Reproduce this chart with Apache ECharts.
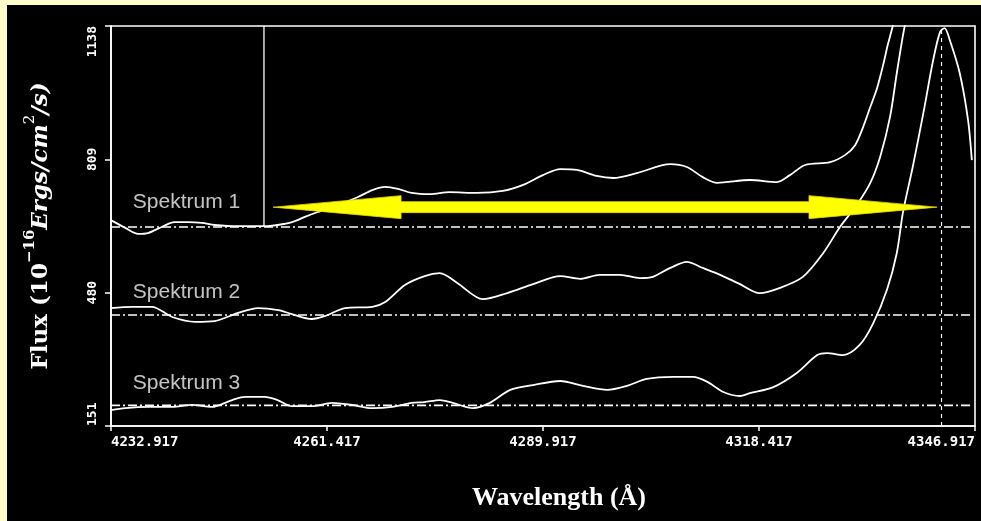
<!DOCTYPE html>
<html><head><meta charset="utf-8">
<script src="https://cdn.jsdelivr.net/npm/echarts@6/dist/echarts.min.js"></script>
<style>
html,body{margin:0;padding:0;background:#ffffcc;width:981px;height:521px;overflow:hidden;}
#bg{position:absolute;left:7px;top:5px;width:974px;height:516px;background:#000;}
#c{position:absolute;left:0;top:0;width:981px;height:521px;}
</style>
</head><body><div id="bg"></div><div id="c"></div>
<script>
// ---- data ----
const xTicks = [4232.917, 4261.417, 4289.917, 4318.417, 4346.917];
const yTicks = [151, 480, 809, 1138];

const spec1 = [[4232.9,659],[4234.8,640],[4236.5,625],[4237.8,627],[4239.6,642],[4241.3,654],[4243.1,654],[4244.9,652],[4246.6,647],[4249.7,644],[4253.2,644],[4254.9,647],[4256.8,654],[4258.5,667],[4260.2,679],[4262.9,696],[4265.5,716],[4267.4,733],[4269.1,741],[4270.8,736],[4272.6,726],[4275.0,723],[4277.6,728],[4281.2,726],[4284.6,731],[4287.3,746],[4289.9,770],[4292.2,785],[4294.4,783],[4297.0,768],[4299.2,763],[4302.3,775],[4306.7,797],[4308.9,790],[4311.0,765],[4312.9,751],[4317.2,758],[4320.8,753],[4322.5,770],[4324.5,795],[4327.8,802],[4329.8,820],[4331.1,844],[4332.1,886],[4333.1,938],[4334.0,985],[4334.8,1042],[4335.4,1091],[4336.0,1133],[4336.2,1153]];

const spec2 = [[4232.9,442],[4235.7,445],[4238.3,445],[4241.0,420],[4244.0,408],[4246.6,410],[4249.7,430],[4252.3,442],[4255.0,437],[4256.8,427],[4259.4,415],[4261.1,422],[4263.8,442],[4267.4,445],[4269.1,457],[4271.7,499],[4274.3,521],[4276.3,528],[4278.6,504],[4282.0,464],[4285.2,479],[4288.6,501],[4292.2,521],[4294.8,514],[4297.4,524],[4300.1,524],[4302.7,516],[4304.4,519],[4306.7,541],[4308.9,556],[4311.0,541],[4313.3,524],[4315.9,501],[4318.5,479],[4321.2,492],[4324.2,519],[4326.9,578],[4329.1,642],[4331.3,696],[4333.1,751],[4334.4,815],[4335.7,913],[4336.6,1022],[4337.3,1103],[4337.8,1153]];

const spec3 = [[4232.9,190],[4234.8,195],[4237.8,198],[4241.0,198],[4243.6,203],[4246.2,198],[4248.9,215],[4250.6,223],[4253.2,223],[4254.9,215],[4256.8,200],[4259.4,200],[4262.1,208],[4264.7,203],[4267.4,195],[4270.0,198],[4272.6,208],[4274.3,210],[4276.3,215],[4278.0,208],[4280.7,195],[4282.9,208],[4285.6,240],[4288.6,252],[4292.2,262],[4295.2,250],[4298.4,240],[4301.0,250],[4303.6,267],[4307.1,272],[4309.7,272],[4311.6,260],[4313.7,235],[4315.9,225],[4317.2,232],[4320.3,247],[4323.4,282],[4326.1,326],[4327.4,331],[4329.5,326],[4331.7,351],[4333.5,405],[4335.3,487],[4336.6,578],[4337.4,677],[4338.7,790],[4340.1,923],[4341.4,1054],[4342.3,1123],[4342.9,1133],[4343.6,1103],[4344.9,1022],[4346.0,906],[4346.5,807]];

const baselineLevels = [642, 425, 202];
const baselineStart = 4232.917;
const baselineEnd = 4346.5;
const markerLine = [[4253.1, 642], [4253.1, 1138]];
const peakLine = [[4342.5, 151], [4342.5, 1138]];
const labelPoints = [[4235.8, 704, 'Spektrum 1'], [4235.8, 482, 'Spektrum 2'], [4235.8, 257, 'Spektrum 3']];
const arrowSpan = [[4254.3, 4341.9, 691]];

// ---- chart ----
const chart = echarts.init(document.getElementById('c'), null, {renderer: 'canvas'});
const WHITE = '#ffffff';
const tickFont = {fontFamily: 'DejaVu Sans Mono', fontWeight: 'bold', fontSize: 13, color: WHITE};

const series = [];
[spec1, spec2, spec3].forEach(d => series.push({
  type: 'line', data: d, symbol: 'none', smooth: 0.3,
  lineStyle: {color: WHITE, width: 1.8}, z: 3
}));
baselineLevels.forEach(v => series.push({
  type: 'line', data: [[baselineStart, v], [baselineEnd, v]], symbol: 'none',
  lineStyle: {color: WHITE, width: 1.6, type: [9, 3, 2, 3]}, z: 2
}));
series.push({type: 'line', data: markerLine, symbol: 'none', lineStyle: {color: WHITE, width: 1.3}, z: 2});
series.push({type: 'line', data: peakLine, symbol: 'none', lineStyle: {color: WHITE, width: 1.1, type: [4, 4]}, z: 2});
series.push({
  type: 'scatter', data: labelPoints, symbolSize: 0, z: 4,
  label: {show: true, position: 'right', distance: 0, formatter: p => p.data[2],
    color: '#f4f4f4', fontFamily: 'Liberation Sans', fontSize: 21}
});
series.push({
  type: 'custom', data: arrowSpan, z: 10,
  renderItem: (params, api) => {
    const a = api.coord([api.value(0), api.value(2)]);
    const b = api.coord([api.value(1), api.value(2)]);
    const L = 128, H = 11.5, h = 5.5, y = a[1];
    return {
      type: 'polygon',
      shape: {points: [[a[0], y], [a[0] + L, y - H], [a[0] + L, y - h], [b[0] - L, y - h], [b[0] - L, y - H],
        [b[0], y], [b[0] - L, y + H], [b[0] - L, y + h], [a[0] + L, y + h], [a[0] + L, y + H]]},
      style: {fill: '#ffff00', stroke: '#e6d200', lineWidth: 0.8}
    };
  }
});

chart.setOption({
  animation: false,
  backgroundColor: 'transparent',
  grid: {left: 111, right: 6, top: 26, bottom: 95, show: true, borderColor: WHITE, borderWidth: 1.6, backgroundColor: 'transparent'},
  xAxis: {
    type: 'value', min: xTicks[0], max: xTicks[xTicks.length - 1], interval: xTicks[1] - xTicks[0],
    axisLine: {show: true, lineStyle: {color: WHITE, width: 1.6}},
    axisTick: {show: true, inside: false, length: 5, lineStyle: {color: WHITE, width: 1.5}},
    splitLine: {show: false},
    axisLabel: Object.assign({margin: 9, formatter: v => v.toFixed(3), alignMinLabel: 'left', alignMaxLabel: 'right', showMinLabel: true, showMaxLabel: true}, tickFont, {fontSize: 14}),
    name: 'Wavelength (Å)', nameLocation: 'middle', nameGap: 59,
    nameTextStyle: {color: WHITE, fontFamily: 'Liberation Serif', fontWeight: 'bold', fontSize: 26, padding: [0, 0, 0, 32]}
  },
  yAxis: {
    type: 'value', min: yTicks[0], max: yTicks[yTicks.length - 1], interval: yTicks[1] - yTicks[0],
    axisLine: {show: true, lineStyle: {color: WHITE, width: 1.6}},
    axisTick: {show: true, inside: false, length: 6, lineStyle: {color: WHITE, width: 1.5}},
    splitLine: {show: false},
    axisLabel: Object.assign({margin: 12, rotate: 90, formatter: v => String(Math.round(v)), alignMinLabel: 'left', alignMaxLabel: 'right', showMinLabel: true, showMaxLabel: true}, tickFont),
    name: '{b|Flux (10}{sb|−16}{i|Ergs/cm}{s|2}{i|/s)}', nameLocation: 'middle', nameGap: 58,
    nameTextStyle: {color: WHITE, rich: {
      b: {fontFamily: 'DejaVu Serif', fontWeight: 'bold', fontSize: 23, color: WHITE, lineHeight: 30, verticalAlign: 'bottom'},
      sb: {fontFamily: 'DejaVu Serif', fontWeight: 'bold', fontSize: 15, color: WHITE, lineHeight: 30, verticalAlign: 'top'},
      i: {fontFamily: 'DejaVu Serif', fontStyle: 'italic', fontWeight: 'bold', fontSize: 23, color: WHITE, lineHeight: 30, verticalAlign: 'bottom'},
      s: {fontFamily: 'DejaVu Serif', fontSize: 15, color: WHITE, lineHeight: 30, verticalAlign: 'top'}
    }}
  },
  series: series
});
</script>
</body></html>
